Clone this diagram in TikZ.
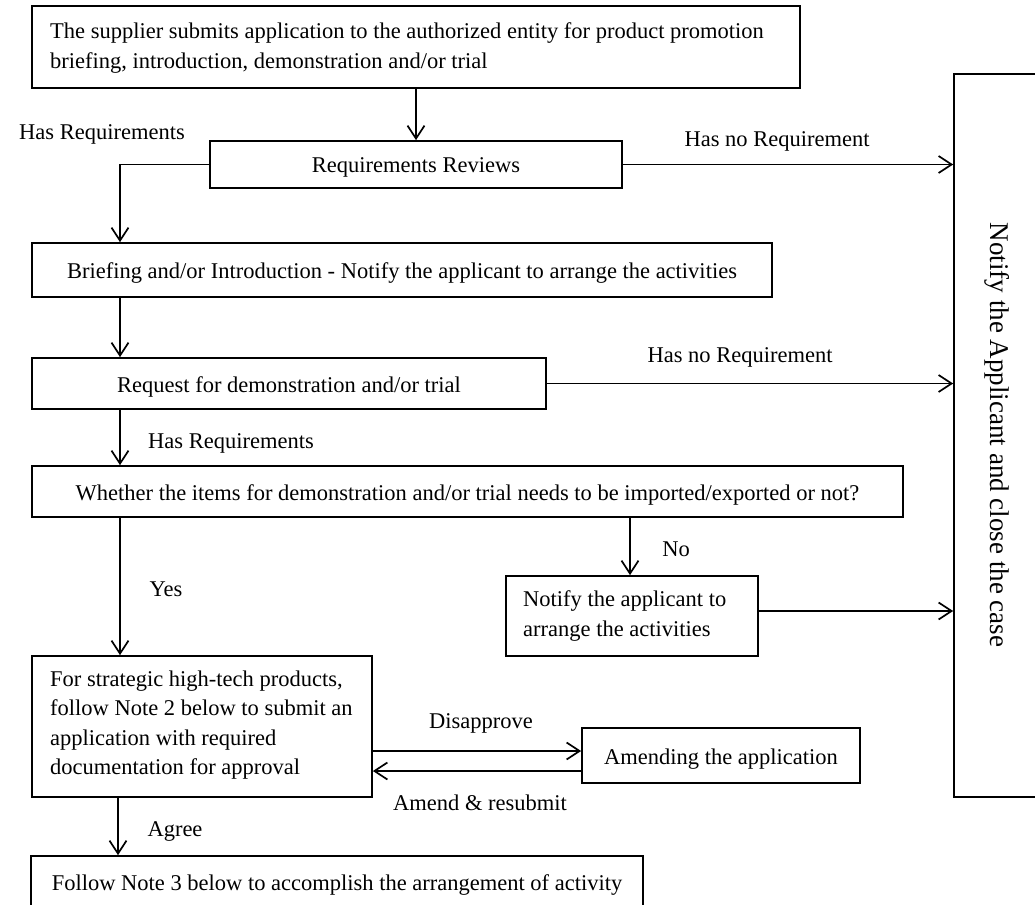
\documentclass[tikz,border=0pt]{standalone}
\usepackage{fontspec}
\setmainfont{Liberation Serif}
\usetikzlibrary{arrows.meta}
\begin{document}
\begin{tikzpicture}[x=1pt,y=-1pt,
  fnt/.style={font=\fontsize{22.5}{29.5}\selectfont},
  box/.style={draw, line width=1.7pt, inner sep=0pt, fnt, text height=17pt, text depth=0pt},
  ebox/.style={draw, line width=1.7pt, inner sep=0pt},
  mtext/.style={inner sep=0pt, fnt, align=left, anchor=west},
  lbl/.style={inner sep=0pt, fnt, text height=17pt, text depth=0pt},
  arr/.style={line width=1.7pt, -{Straight Barb[length=13pt,width=17pt,line width=1.7pt]}}]
\useasboundingbox (0,0) rectangle (1035,904);
\fill[white] (0,0) rectangle (1035,904);
% boxes
\node[ebox, minimum width=768pt, minimum height=82pt] (top) at (416,47) {};
\node[mtext] (toptxt) at (50,48)
  {The supplier submits application to the authorized entity for product promotion\\briefing, introduction, demonstration and/or trial};
\node[box, minimum width=412pt, minimum height=47pt] (req) at (416,164.5) {Requirements Reviews};
\node[box, minimum width=740pt, minimum height=54pt] (brief) at (402,270) {Briefing and/or Introduction - Notify the applicant to arrange the activities};
\node[box, minimum width=514pt, minimum height=51pt] (request) at (289,383.5) {Request for demonstration and/or trial};
\node[box, minimum width=871pt, minimum height=51pt] (whether) at (467.5,491.5) {Whether the items for demonstration and/or trial needs to be imported/exported or not?};
\node[ebox, minimum width=252pt, minimum height=80pt] (notify) at (632,616) {};
\node[mtext] (notifytxt) at (523,616) {Notify the applicant to\\arrange the activities};
\node[ebox, minimum width=340pt, minimum height=141pt] (strat) at (202,726.5) {};
\node[mtext] (strattxt) at (50,725)
  {For strategic high-tech products,\\follow Note 2 below to submit an\\application with required\\documentation for approval};
\node[box, minimum width=278pt, minimum height=55pt] (amend) at (721,755.5) {Amending the application};
\node[box, minimum width=612pt, minimum height=52pt] (final) at (337,882) {Follow Note 3 below to accomplish the arrangement of activity};
\node[ebox, minimum width=86pt, minimum height=723pt] (close) at (997,435.5) {};
\node[inner sep=0pt, rotate=-90, font=\fontsize{27}{30}\selectfont] (closetxt) at (997,435) {Notify the Applicant and close the case};
% helper coordinates
\coordinate (L) at (120,0);
\coordinate (L2) at (118,0);
\coordinate (N) at (630,0);
\coordinate (Y1) at (0,751);
\coordinate (Y2) at (0,771);
\coordinate (Yn) at (0,611);
% connectors
\draw[arr] (top.south) -- (req.north);
\draw[arr] (req.west) -| (brief.north -| L);
\draw[arr] (req.east) -- (req.east -| close.west);
\draw[arr] (brief.south -| L) -- (request.north -| L);
\draw[arr] (request.east) -- (request.east -| close.west);
\draw[arr] (request.south -| L) -- (whether.north -| L);
\draw[arr] (whether.south -| N) -- (notify.north -| N);
\draw[arr] (whether.south -| L) -- (strat.north -| L);
\draw[arr] (notify.east |- Yn) -- (close.west |- Yn);
\draw[arr] (strat.east |- Y1) -- (amend.west |- Y1);
\draw[arr] (amend.west |- Y2) -- (strat.east |- Y2);
\draw[arr] (strat.south -| L2) -- (final.north -| L2);
% labels
\node[lbl] (l1) at (102,131) {Has Requirements};
\node[lbl] (l2) at (777,138) {Has no Requirement};
\node[lbl] (l3) at (740,354) {Has no Requirement};
\node[lbl] (l4) at (231,440) {Has Requirements};
\node[lbl] (l5) at (676,548) {No};
\node[lbl] (l6) at (166,588) {Yes};
\node[lbl] (l7) at (481,720) {Disapprove};
\node[lbl] (l8) at (480,802) {Amend \& resubmit};
\node[lbl] (l9) at (175,828) {Agree};
\end{tikzpicture}
\end{document}
